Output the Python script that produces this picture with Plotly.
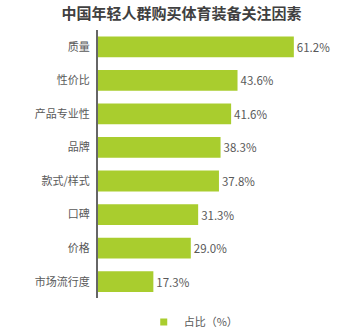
import plotly.graph_objects as go

categories = ["质量", "性价比", "产品专业性", "品牌", "款式/样式", "口碑", "价格", "市场流行度"]
values = [61.2, 43.6, 41.6, 38.3, 37.8, 31.3, 29.0, 17.3]
series_name = "占比（%）"
title = "中国年轻人群购买体育装备关注因素"

FONT = "Noto Sans CJK SC"
GREEN = "#a9cd2e"
GRAY = "#595959"

fig = go.Figure()
fig.add_trace(go.Bar(
    y=categories, x=values, orientation="h",
    name=series_name,
    marker=dict(color=GREEN, line=dict(width=0)),
    text=[f"{v:.1f}%" for v in values],
    textposition="outside",
    textfont=dict(size=11.5, color=GRAY, family=FONT),
    cliponaxis=False,
    showlegend=False,
))
# legend entry with a small square swatch
fig.add_trace(go.Scatter(
    x=[None], y=[None], mode="markers", name=series_name,
    marker=dict(symbol="square", size=7, color=GREEN),
    showlegend=True,
))

fig.update_layout(
    width=363, height=334,
    margin=dict(l=98, r=9, t=30, b=26),
    paper_bgcolor="white", plot_bgcolor="white",
    title=dict(text=f"<b>{title}</b>", x=0.5, xanchor="center", y=0.958, yanchor="middle",
               font=dict(size=15, color="#404040", family=FONT)),
    bargap=0.38,
    xaxis=dict(range=[0, 80], visible=False, fixedrange=True),
    yaxis=dict(categoryorder="array", categoryarray=categories, autorange="reversed",
               showline=True, linecolor="#666666", linewidth=2, ticks="", ticklen=0,
               tickfont=dict(size=11, color=GRAY, family=FONT), showgrid=False,
               ticklabelstandoff=4),
    legend=dict(orientation="h", x=0.374, xanchor="center", yref="container", y=0.036,
                yanchor="middle", font=dict(size=11, color=GRAY, family=FONT),
                itemwidth=30, bgcolor="rgba(0,0,0,0)"),
    showlegend=True,
)

fig.write_html("out.html")
